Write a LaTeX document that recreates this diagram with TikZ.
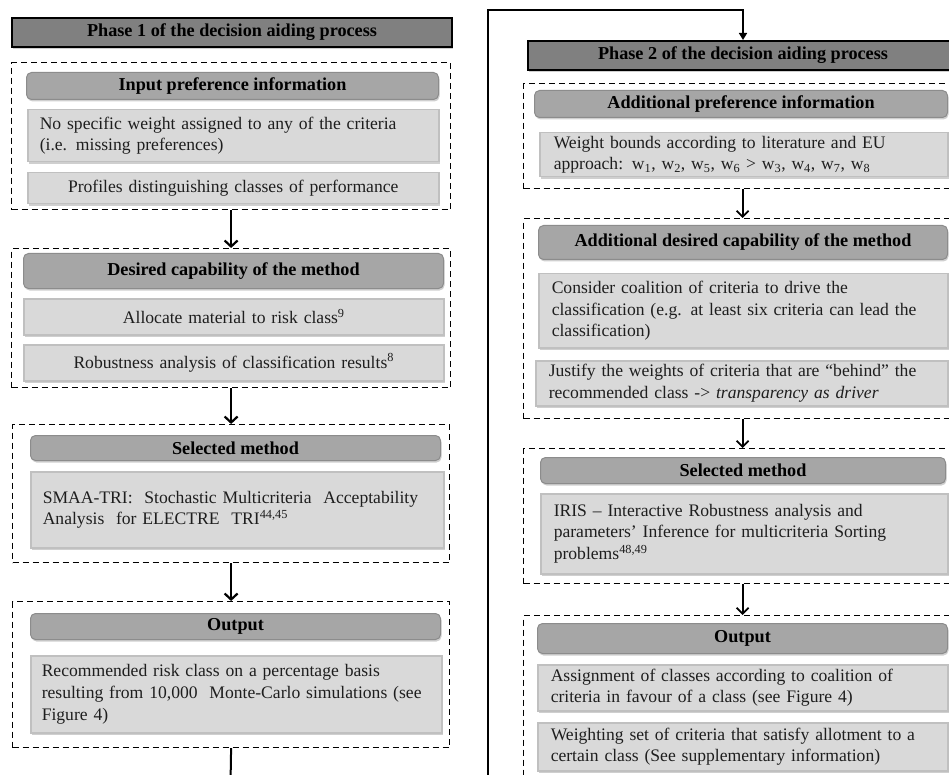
\documentclass[tikz,border=0pt]{standalone}
\usepackage{fontspec}
\setmainfont{Liberation Serif}
\usetikzlibrary{arrows.meta,shadows}
\definecolor{phasegray}{RGB}{128,128,128}
\definecolor{secgray}{RGB}{166,166,166}
\definecolor{secline}{RGB}{140,140,140}
\definecolor{boxgray}{RGB}{217,217,217}
\definecolor{boxline}{RGB}{192,192,192}
\definecolor{shadowgray}{RGB}{160,160,160}
\definecolor{txt}{RGB}{30,30,30}
\begin{document}
\begin{tikzpicture}[x=1pt,y=-1pt,
  every node/.style={font=\fontsize{17.6}{21.6}\selectfont, text=txt},
  phasebox/.style={draw=black, line width=2pt, fill=phasegray, anchor=north west,
    inner sep=0pt, font=\fontsize{18.2}{21.6}\selectfont\bfseries, text=black,
    drop shadow={shadow xshift=1pt, shadow yshift=-2pt, fill=shadowgray, opacity=0.5}},
  secbox/.style={draw=secline, line width=1pt, fill=secgray, rounded corners=5pt, anchor=north west,
    inner sep=0pt, font=\fontsize{18.2}{21.6}\selectfont\bfseries, text=black,
    drop shadow={shadow xshift=1pt, shadow yshift=-2pt, fill=shadowgray, opacity=0.5}},
  cbox/.style={draw=boxline, line width=1.5pt, fill=boxgray, anchor=north west,
    inner ysep=0pt, inner xsep=12pt, align=left,
    drop shadow={shadow xshift=1pt, shadow yshift=-2pt, fill=shadowgray, opacity=0.5}},
  dbox/.style={draw=black, line width=1.2pt, dash pattern=on 6pt off 4pt, anchor=north west, inner sep=0pt},
  arrL/.style={line width=2.2pt, -{Straight Barb[length=6pt,width=13pt]}},
  arrR/.style={line width=1.8pt, -{Straight Barb[length=6pt,width=12pt]}},
  fbline/.style={line width=1.6pt}
]
\useasboundingbox (0,0) rectangle (949,775);
\fill[white] (0,0) rectangle (949,775);
\clip (0,0) rectangle (949,775);

% ---------------- Left column (Phase 1) ----------------
\node[phasebox, minimum width=440pt, minimum height=29pt] (hd1) at (11,17) {Phase 1 of the decision aiding process};

\node[dbox, minimum width=439pt, minimum height=147pt] (d1) at (11,62) {};
\node[secbox, minimum width=412pt, minimum height=27pt] (s1) at (26,72) {Input preference information};
\node[cbox, text width=387pt, minimum height=52pt] (c1) at (27,109) {No specific weight assigned to any of the criteria\\(i.e. missing preferences)};
\node[cbox, text width=387pt, minimum height=31pt, align=center] (c2) at (27,172) {Profiles distinguishing classes of performance};

\node[dbox, minimum width=439pt, minimum height=139pt] (d2) at (11,248) {};
\node[secbox, minimum width=420pt, minimum height=35pt] (s2) at (23,253) {Desired capability of the method};
\node[cbox, text width=396pt, minimum height=36pt, align=center] (c3) at (23,298) {Allocate material to risk class\textsuperscript{9}};
\node[cbox, text width=396pt, minimum height=36pt, align=center] (c4) at (23,344) {Robustness analysis of classification results\textsuperscript{8}};

\node[dbox, minimum width=437pt, minimum height=138pt] (d3) at (12,424) {};
\node[secbox, minimum width=410pt, minimum height=25pt] (s3) at (30,435) {Selected method};
\node[cbox, text width=389pt, minimum height=76pt] (c5) at (30,471) {SMAA-TRI:\ \ Stochastic Multicriteria\ \ Acceptability\\Analysis\ \ for ELECTRE\ \ TRI\textsuperscript{44,45}};

\node[dbox, minimum width=437pt, minimum height=146pt] (d4) at (12,601) {};
\node[secbox, minimum width=410pt, minimum height=26pt] (s4) at (30,613) {Output};
\node[cbox, inner xsep=11pt, text width=389pt, minimum height=77pt] (c6) at (30,655) {Recommended risk class on a percentage basis\\\mbox{resulting from 10,000\ \ Monte-Carlo simulations (see}\\Figure 4)};

\draw[arrL] (d1.south) -- (d2.north);
\draw[arrL] (d2.south) -- (d3.north);
\draw[arrL] (d3.south) -- (d4.north);
\coordinate (lbot) at (230.5,785);
\draw[line width=2pt] (d4.south) -- (lbot);

% ---------------- Right column (Phase 2) ----------------
\node[phasebox, minimum width=430pt, minimum height=29pt] (hd2) at (527,40) {Phase 2 of the decision aiding process};

\node[dbox, minimum width=438pt, minimum height=105pt] (d5) at (523,83) {};
\node[secbox, minimum width=413pt, minimum height=27pt] (s5) at (534,90) {Additional preference information};
\node[cbox, inner xsep=14pt, text width=380pt, minimum height=44pt] (c7) at (539,132) {Weight bounds according to literature and EU\\approach: w\textsubscript{1}, w\textsubscript{2}, w\textsubscript{5}, w\textsubscript{6} > w\textsubscript{3}, w\textsubscript{4}, w\textsubscript{7}, w\textsubscript{8}};

\node[dbox, minimum width=438pt, minimum height=200pt] (d6) at (523,218) {};
\node[secbox, minimum width=409pt, minimum height=34pt] (s6) at (538,225) {Additional desired capability of the method};
\node[cbox, inner xsep=13pt, text width=383pt, minimum height=74pt] (c8) at (538,273) {Consider coalition of criteria to drive the\\classification (e.g. at least six criteria can lead the\\classification)};
\node[cbox, inner xsep=13pt, text width=386pt, minimum height=45pt] (c9) at (535,360) {Justify the weights of criteria that are “behind” the\\recommended class -> \textit{transparency as driver}};

\node[dbox, minimum width=438pt, minimum height=135pt] (d7) at (523,448) {};
\node[secbox, minimum width=405pt, minimum height=26pt] (s7) at (540,457) {Selected method};
\node[cbox, inner xsep=13pt, text width=381pt, minimum height=80pt] (c10) at (540,493) {IRIS -- Interactive Robustness analysis and\\parameters' Inference for multicriteria Sorting\\problems\textsuperscript{48,49}};

\node[dbox, minimum width=438pt, minimum height=200pt] (d8) at (523,615) {};
\node[secbox, minimum width=410pt, minimum height=30pt] (s8) at (537,623) {Output};
\node[cbox, inner xsep=13pt, text width=384pt, minimum height=46pt] (c11) at (537,664) {Assignment of classes according to coalition of\\criteria in favour of a class (see Figure 4)};
\node[cbox, inner xsep=13pt, text width=384pt, minimum height=48pt] (c12) at (537,722) {Weighting set of criteria that satisfy allotment to a\\certain class (See supplementary information)};

\draw[arrR] (d5.south) -- (d6.north);
\draw[arrR] (d6.south) -- (d7.north);
\draw[arrR] (d7.south) -- (d8.north);

% feedback line from phase 1 to phase 2
\coordinate (fbbot) at (488,785);
\coordinate (fbtop) at (488,10);
\draw[fbline, -{Triangle[length=7pt,width=8pt]}] (fbbot) -- (fbtop) -| (hd2.north);
\end{tikzpicture}
\end{document}
